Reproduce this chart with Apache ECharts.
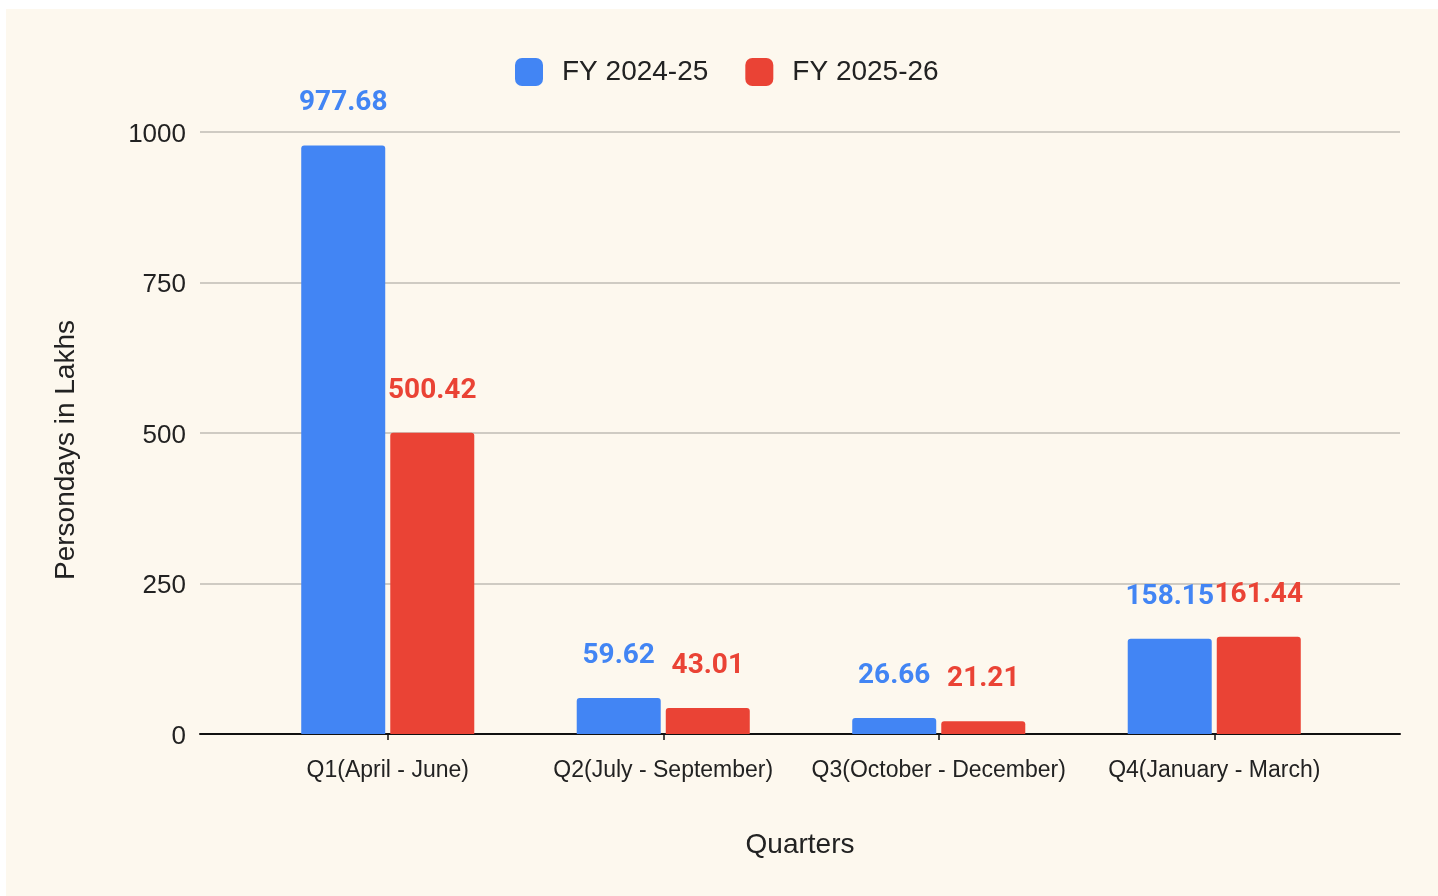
<!DOCTYPE html>
<html>
<head>
<meta charset="utf-8">
<script src="https://cdn.jsdelivr.net/npm/echarts@6/dist/echarts.min.js"></script>
<style>
  html, body { margin: 0; padding: 0; background: #ffffff; width: 1438px; height: 896px; overflow: hidden; }
  #main { position: absolute; left: 6px; top: 9px; width: 1432px; height: 887px; background: #fdf8ee; }
</style>
</head>
<body>
<div id="main"></div>
<script>
const categories = ['Q1(April - June)', 'Q2(July - September)', 'Q3(October - December)', 'Q4(January - March)'];
const seriesNames = ['FY 2024-25', 'FY 2025-26'];
const fy2425 = [977.68, 59.62, 26.66, 158.15];
const fy2526 = [500.42, 43.01, 21.21, 161.44];
const yMin = 0, yMax = 1000, yStep = 250;
const colors = ['#4285f4', '#ea4335'];

const axisFont = 'Arial, "Liberation Sans", sans-serif';
const labelFont = 'Roboto, "Noto Sans", sans-serif';

const chart = echarts.init(document.getElementById('main'), null, { renderer: 'canvas' });

function barSeries(name, data, color) {
  return {
    name: name,
    type: 'bar',
    xAxisIndex: 1,
    yAxisIndex: 1,
    data: data,
    barWidth: 84,
    barGap: '6%',
    itemStyle: { color: color, borderRadius: [3, 3, 0, 0] },
    label: {
      show: true,
      position: 'top',
      distance: 28,
      color: color,
      fontFamily: labelFont,
      fontWeight: 'bold',
      fontSize: 28
    }
  };
}

chart.setOption({
  animation: false,
  backgroundColor: 'transparent',
  color: colors,
  legend: {
    left: 504,
    top: 44,
    itemWidth: 28,
    itemHeight: 28,
    itemGap: 37,
    icon: 'roundRect',
    textStyle: { fontFamily: axisFont, fontSize: 28, color: '#222222', padding: [0, 0, 0, 14] },
    data: seriesNames
  },
  grid: [
    { left: 194, right: 38, top: 123, bottom: 162, containLabel: false },
    { left: 244, right: 86, top: 123, bottom: 162, containLabel: false }
  ],
  xAxis: [
    {
      gridIndex: 0,
      type: 'value',
      min: 0,
      max: 1,
      axisLine: { show: true, onZero: true, lineStyle: { color: '#111111', width: 2 } },
      axisTick: { show: false },
      axisLabel: { show: false },
      splitLine: { show: false },
      name: 'Quarters',
      nameLocation: 'middle',
      nameGap: 97,
      nameTextStyle: { fontFamily: axisFont, fontSize: 28, color: '#222222' }
    },
    {
      gridIndex: 1,
      type: 'category',
      data: categories,
      axisLine: { show: false },
      axisTick: { show: true, alignWithLabel: true, length: 6, lineStyle: { color: '#111111', width: 1.5 } },
      axisLabel: { fontFamily: axisFont, fontSize: 23, color: '#222222', margin: 25, interval: 0 },
      splitLine: { show: false }
    }
  ],
  yAxis: [
    {
      gridIndex: 0,
      type: 'value',
      min: yMin,
      max: yMax,
      interval: yStep,
      axisLine: { show: false },
      axisTick: { show: false },
      axisLabel: {
        fontFamily: axisFont, fontSize: 26, color: '#222222', margin: 14,
        verticalAlign: 'top', lineHeight: 5,
        formatter: function (v) { return String(v); }
      },
      splitLine: { show: true, lineStyle: { color: '#cfcbc3', width: 2 } },
      name: 'Persondays in Lakhs',
      nameLocation: 'middle',
      nameGap: 120,
      nameTextStyle: { fontFamily: axisFont, fontSize: 28, color: '#222222', padding: [0, 34, 0, 0] }
    },
    {
      gridIndex: 1,
      type: 'value',
      min: yMin,
      max: yMax,
      show: false,
      splitLine: { show: false }
    }
  ],
  series: [
    barSeries(seriesNames[0], fy2425, colors[0]),
    barSeries(seriesNames[1], fy2526, colors[1])
  ]
});
</script>
</body>
</html>
